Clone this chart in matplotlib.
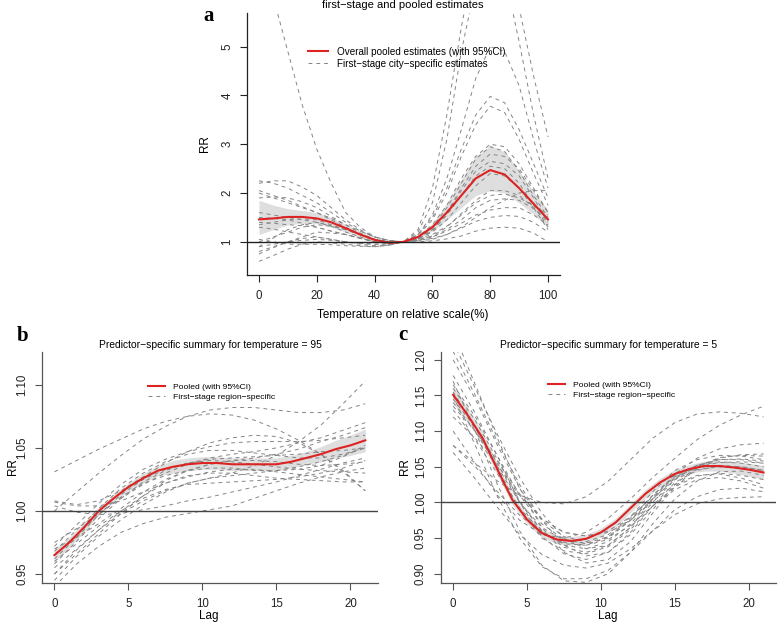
import numpy as np
import matplotlib
matplotlib.use("Agg")
import matplotlib.pyplot as plt

plt.rcParams['font.family'] = ['Liberation Sans', 'DejaVu Sans']

# ---------------- panel a: overall cumulative curve ----------------
temp_grid = [0, 5, 10, 15, 20, 25, 30, 35, 40, 45, 50,
             55, 60, 65, 70, 75, 80, 85, 90, 95, 100]
pooled_a = [1.46, 1.48, 1.51, 1.51, 1.48, 1.40, 1.28, 1.15, 1.04, 0.98, 1.00,
            1.10, 1.30, 1.60, 1.95, 2.30, 2.47, 2.38, 2.10, 1.78, 1.46]
upper_a = [1.85, 1.75, 1.68, 1.64, 1.60, 1.50, 1.36, 1.21, 1.08, 1.01, 1.00,
           1.13, 1.38, 1.78, 2.28, 2.75, 2.97, 2.85, 2.45, 2.02, 1.65]
lower_a = [1.15, 1.25, 1.35, 1.38, 1.37, 1.30, 1.20, 1.09, 1.00, 0.95, 1.00,
           1.07, 1.22, 1.45, 1.70, 1.95, 2.05, 2.00, 1.80, 1.56, 1.30]

# city-specific curves, read at the same temperatures as temp_grid
city_curves = [
    [7.30, 6.00, 4.90, 3.80, 2.90, 2.20, 1.60, 1.30, 1.10, 1.02, 1.00, 1.25, 2.10, 3.60, 5.40, 6.90, 7.60, 7.30, 5.80, 4.40, 3.15],
    [1.30, 1.26, 1.20, 1.15, 1.10, 1.05, 1.00, 0.97, 0.95, 0.96, 1.00, 1.20, 1.80, 3.10, 4.90, 6.30, 6.90, 6.50, 5.10, 3.60, 2.30],
    [0.90, 0.95, 1.00, 1.03, 1.05, 1.03, 1.00, 0.97, 0.95, 0.96, 1.00, 1.15, 1.55, 2.30, 3.30, 4.35, 5.00, 4.90, 4.20, 3.10, 2.10],
    [1.50, 1.48, 1.45, 1.38, 1.30, 1.22, 1.15, 1.07, 1.00, 0.98, 1.00, 1.15, 1.50, 2.10, 2.90, 3.60, 3.98, 3.85, 3.30, 2.60, 1.90],
    [2.00, 1.90, 1.80, 1.70, 1.60, 1.45, 1.30, 1.15, 1.05, 1.00, 1.00, 1.13, 1.45, 2.00, 2.75, 3.40, 3.78, 3.65, 3.10, 2.40, 1.75],
    [2.25, 2.20, 2.10, 1.95, 1.80, 1.60, 1.40, 1.22, 1.10, 1.03, 1.00, 1.10, 1.35, 1.75, 2.30, 2.75, 3.00, 2.95, 2.60, 2.10, 1.60],
    [1.60, 1.55, 1.50, 1.45, 1.40, 1.33, 1.25, 1.15, 1.05, 1.00, 1.00, 1.10, 1.30, 1.70, 2.20, 2.70, 2.95, 2.85, 2.45, 1.95, 1.50],
    [0.80, 0.90, 1.00, 1.10, 1.20, 1.18, 1.15, 1.08, 1.00, 0.98, 1.00, 1.08, 1.25, 1.60, 2.10, 2.55, 2.80, 2.75, 2.50, 2.05, 1.60],
    [1.35, 1.40, 1.45, 1.47, 1.45, 1.35, 1.25, 1.15, 1.05, 1.00, 1.00, 1.08, 1.25, 1.60, 2.05, 2.45, 2.65, 2.60, 2.35, 1.90, 1.40],
    [2.20, 2.25, 2.25, 2.12, 1.95, 1.70, 1.45, 1.25, 1.10, 1.02, 1.00, 1.07, 1.22, 1.55, 1.95, 2.35, 2.55, 2.50, 2.20, 1.75, 1.30],
    [1.90, 1.92, 1.90, 1.82, 1.70, 1.52, 1.35, 1.18, 1.05, 1.00, 1.00, 1.06, 1.20, 1.45, 1.80, 2.15, 2.40, 2.35, 2.10, 1.70, 1.25],
    [0.60, 0.72, 0.85, 0.95, 1.00, 0.98, 0.95, 0.92, 0.90, 0.93, 1.00, 1.07, 1.15, 1.32, 1.55, 1.80, 1.95, 1.98, 1.90, 1.75, 1.55],
    [1.40, 1.38, 1.35, 1.33, 1.30, 1.22, 1.15, 1.07, 1.00, 0.98, 1.00, 1.04, 1.10, 1.25, 1.45, 1.70, 1.85, 1.88, 1.85, 1.68, 1.45],
    [0.75, 0.88, 1.00, 1.07, 1.10, 1.05, 1.00, 0.95, 0.92, 0.94, 1.00, 1.05, 1.10, 1.22, 1.38, 1.55, 1.65, 1.70, 1.70, 1.55, 1.35],
    [1.00, 1.10, 1.20, 1.30, 1.35, 1.32, 1.25, 1.15, 1.05, 1.00, 1.00, 1.02, 1.05, 1.15, 1.28, 1.42, 1.50, 1.54, 1.52, 1.40, 1.20],
    [2.05, 1.95, 1.85, 1.72, 1.60, 1.48, 1.35, 1.22, 1.10, 1.03, 1.00, 1.00, 1.02, 1.06, 1.12, 1.22, 1.28, 1.30, 1.28, 1.18, 1.00],
    [0.90, 1.08, 1.25, 1.35, 1.40, 1.32, 1.20, 1.10, 1.00, 0.97, 1.00, 1.05, 1.12, 1.30, 1.58, 1.85, 2.05, 2.05, 1.95, 1.70, 1.40],
    [1.05, 1.00, 0.95, 0.95, 0.95, 0.94, 0.92, 0.91, 0.90, 0.93, 1.00, 1.03, 1.07, 1.15, 1.30, 1.50, 1.70, 1.85, 2.00, 2.05, 2.05],
]

# ---------------- panel b: lag curve at temperature = 95 ----------------
lag_fine = list(range(22))
pooled_b = [0.965, 0.975, 0.987, 1.000, 1.010, 1.019, 1.026, 1.032, 1.035, 1.037, 1.038,
            1.038, 1.037, 1.037, 1.037, 1.037, 1.039, 1.042, 1.045, 1.049, 1.052, 1.056]
halfw_b = [0.005, 0.004, 0.004, 0.003, 0.003, 0.003, 0.004, 0.004, 0.005, 0.005, 0.005,
           0.005, 0.005, 0.005, 0.005, 0.005, 0.005, 0.005, 0.006, 0.007, 0.008, 0.009]

lag_grid = [0, 1.5, 3, 4.5, 6, 7.5, 9, 10.5, 12, 13.5, 15, 16.5, 18, 19.5, 21]
region_b = [
    [1.031, 1.040, 1.049, 1.057, 1.065, 1.071, 1.075, 1.077, 1.076, 1.072, 1.065, 1.056, 1.045, 1.031, 1.016],
    [1.000, 1.015, 1.030, 1.044, 1.057, 1.067, 1.075, 1.080, 1.082, 1.082, 1.080, 1.078, 1.078, 1.080, 1.085],
    [0.950, 0.969, 0.985, 0.998, 1.008, 1.016, 1.022, 1.026, 1.030, 1.036, 1.044, 1.055, 1.068, 1.085, 1.103],
    [0.975, 0.986, 0.998, 1.010, 1.021, 1.030, 1.037, 1.042, 1.045, 1.047, 1.050, 1.054, 1.058, 1.064, 1.070],
    [1.008, 1.005, 1.008, 1.016, 1.027, 1.038, 1.047, 1.054, 1.058, 1.060, 1.059, 1.054, 1.045, 1.032, 1.016],
    [1.004, 0.999, 0.997, 0.998, 1.001, 1.004, 1.008, 1.011, 1.015, 1.019, 1.023, 1.028, 1.033, 1.038, 1.042],
    [0.940, 0.958, 0.972, 0.983, 0.990, 0.995, 0.998, 1.001, 1.004, 1.010, 1.016, 1.022, 1.027, 1.031, 1.034],
    [0.955, 0.970, 0.985, 1.000, 1.012, 1.022, 1.028, 1.030, 1.030, 1.028, 1.026, 1.025, 1.024, 1.023, 1.023],
    [0.962, 0.979, 0.997, 1.013, 1.025, 1.033, 1.038, 1.040, 1.039, 1.037, 1.035, 1.033, 1.032, 1.031, 1.030],
    [0.968, 0.985, 1.002, 1.018, 1.030, 1.039, 1.045, 1.048, 1.048, 1.046, 1.044, 1.042, 1.042, 1.045, 1.050],
    [0.972, 0.989, 1.006, 1.021, 1.033, 1.041, 1.047, 1.051, 1.054, 1.055, 1.055, 1.055, 1.056, 1.058, 1.060],
    [0.960, 0.974, 0.988, 1.000, 1.010, 1.017, 1.021, 1.022, 1.023, 1.024, 1.025, 1.027, 1.030, 1.034, 1.040],
    [0.965, 0.981, 0.997, 1.011, 1.022, 1.028, 1.032, 1.034, 1.034, 1.032, 1.032, 1.033, 1.036, 1.043, 1.052],
    [0.950, 0.966, 0.982, 0.998, 1.012, 1.024, 1.032, 1.037, 1.040, 1.040, 1.039, 1.037, 1.036, 1.037, 1.039],
    [0.970, 0.979, 0.990, 1.002, 1.015, 1.025, 1.032, 1.037, 1.040, 1.042, 1.045, 1.049, 1.055, 1.060, 1.066],
    [0.958, 0.976, 0.994, 1.010, 1.023, 1.032, 1.038, 1.041, 1.042, 1.043, 1.044, 1.045, 1.047, 1.048, 1.050],
    [0.945, 0.964, 0.980, 0.993, 1.005, 1.015, 1.022, 1.026, 1.028, 1.030, 1.032, 1.035, 1.039, 1.044, 1.050],
    [1.007, 1.004, 1.004, 1.008, 1.015, 1.022, 1.027, 1.031, 1.033, 1.033, 1.031, 1.029, 1.027, 1.025, 1.023],
]

# ---------------- panel c: lag curve at temperature = 5 ----------------
pooled_c = [1.151, 1.122, 1.090, 1.046, 1.004, 0.976, 0.957, 0.948, 0.946, 0.949, 0.958,
            0.972, 0.992, 1.012, 1.028, 1.040, 1.047, 1.051, 1.051, 1.049, 1.046, 1.042]
halfw_c = [0.012, 0.010, 0.009, 0.008, 0.007, 0.006, 0.006, 0.006, 0.006, 0.006, 0.006,
           0.006, 0.006, 0.006, 0.006, 0.006, 0.006, 0.007, 0.007, 0.008, 0.009, 0.010]
region_c = [
    [1.080, 1.055, 1.030, 1.010, 1.000, 0.998, 1.008, 1.030, 1.060, 1.090, 1.112, 1.124, 1.127, 1.125, 1.120],
    [1.100, 1.055, 1.010, 0.975, 0.955, 0.950, 0.958, 0.978, 1.005, 1.035, 1.062, 1.088, 1.108, 1.123, 1.135],
    [1.225, 1.160, 1.095, 1.035, 0.985, 0.950, 0.935, 0.940, 0.965, 1.005, 1.040, 1.062, 1.075, 1.081, 1.083],
    [1.212, 1.150, 1.085, 1.025, 0.975, 0.940, 0.925, 0.930, 0.955, 0.990, 1.025, 1.050, 1.063, 1.066, 1.065],
    [1.170, 1.100, 1.025, 0.960, 0.912, 0.890, 0.888, 0.900, 0.930, 0.970, 1.005, 1.030, 1.043, 1.044, 1.038],
    [1.150, 1.080, 1.008, 0.950, 0.910, 0.893, 0.893, 0.905, 0.930, 0.960, 0.990, 1.008, 1.018, 1.020, 1.015],
    [1.165, 1.120, 1.065, 1.010, 0.970, 0.948, 0.942, 0.950, 0.975, 1.010, 1.038, 1.052, 1.057, 1.055, 1.050],
    [1.140, 1.100, 1.050, 1.000, 0.965, 0.947, 0.943, 0.952, 0.975, 1.005, 1.032, 1.046, 1.050, 1.048, 1.045],
    [1.130, 1.088, 1.040, 0.992, 0.958, 0.942, 0.940, 0.952, 0.978, 1.010, 1.036, 1.049, 1.052, 1.050, 1.045],
    [1.160, 1.115, 1.060, 1.002, 0.960, 0.940, 0.935, 0.945, 0.970, 1.005, 1.034, 1.050, 1.056, 1.057, 1.055],
    [1.178, 1.125, 1.065, 1.000, 0.952, 0.928, 0.920, 0.930, 0.958, 0.995, 1.028, 1.045, 1.051, 1.050, 1.045],
    [1.080, 1.050, 1.015, 0.982, 0.958, 0.944, 0.940, 0.948, 0.968, 0.995, 1.018, 1.032, 1.035, 1.030, 1.020],
    [1.070, 1.033, 0.993, 0.955, 0.927, 0.912, 0.908, 0.915, 0.935, 0.960, 0.983, 0.998, 1.005, 1.007, 1.008],
    [1.200, 1.145, 1.080, 1.020, 0.975, 0.952, 0.945, 0.955, 0.980, 1.015, 1.045, 1.060, 1.066, 1.065, 1.060],
    [1.145, 1.105, 1.055, 1.000, 0.960, 0.937, 0.930, 0.940, 0.965, 1.000, 1.032, 1.052, 1.060, 1.060, 1.055],
    [1.120, 1.090, 1.052, 1.010, 0.977, 0.958, 0.953, 0.960, 0.980, 1.008, 1.035, 1.052, 1.060, 1.061, 1.058],
    [1.155, 1.105, 1.048, 0.990, 0.950, 0.932, 0.928, 0.938, 0.962, 0.995, 1.022, 1.037, 1.041, 1.038, 1.032],
    [1.135, 1.100, 1.058, 1.012, 0.977, 0.958, 0.953, 0.958, 0.975, 1.002, 1.025, 1.038, 1.040, 1.034, 1.025],
    [1.240, 1.165, 1.090, 1.020, 0.965, 0.930, 0.915, 0.920, 0.945, 0.985, 1.022, 1.048, 1.062, 1.067, 1.068],
]

W, H = 778, 627
RED = '#dd2222'
DASH = '#858585'
BAND = '#dedede'

fig = plt.figure(figsize=(W / 100, H / 100), dpi=100)


def px_axes(left, top, right, bottom):
    return fig.add_axes([left / W, 1 - bottom / H, (right - left) / W, (bottom - top) / H])


def style_axes(ax, axis_col):
    for s in ('top', 'right'):
        ax.spines[s].set_visible(False)
    for s in ('left', 'bottom'):
        ax.spines[s].set_color(axis_col)
        ax.spines[s].set_linewidth(0.9)
    ax.tick_params(axis='both', direction='out', length=5, width=0.8,
                   color=axis_col, labelsize=8.3, labelcolor='#222222')
    ax.tick_params(axis='x', pad=6)
    ax.tick_params(axis='y', pad=5, labelrotation=90)
    for lab in ax.get_yticklabels():
        lab.set_va('center')


def draw_panel(ax, x_pooled, pooled, lo, hi, x_first, curves, labels, hcol):
    ax.fill_between(x_pooled, lo, hi, color=BAND, lw=0, zorder=1)
    for k, cur in enumerate(curves):
        ax.plot(x_first, cur, color=DASH, lw=0.7, dashes=(4, 4), zorder=2,
                label=labels[1] if k == 0 else None)
    ax.plot(x_pooled, pooled, color=RED, lw=1.5, zorder=3, label=labels[0])
    ax.axhline(1, color=hcol, lw=1.0, zorder=4)


def add_legend(ax, x, y, size):
    h, l = ax.get_legend_handles_labels()
    ax.legend(h[::-1], l[::-1], loc='upper left', bbox_to_anchor=(x / W, 1 - y / H),
              bbox_transform=fig.transFigure, frameon=False, fontsize=size,
              handlelength=2.0, handletextpad=0.9, labelspacing=0.2, borderaxespad=0)


# panel a
ax_a = px_axes(247.4, 13, 559.6, 275)
draw_panel(ax_a, temp_grid, pooled_a, lower_a, upper_a, temp_grid, city_curves,
           ['Overall pooled estimates (with 95%CI)', 'First\u2212stage city\u2212specific estimates'],
           '#222222')
ax_a.set_xlim(-4, 104)
ax_a.set_ylim(0.32, 5.69)
ax_a.set_xticks([0, 20, 40, 60, 80, 100])
ax_a.set_yticks([1, 2, 3, 4, 5])
style_axes(ax_a, '#222222')
add_legend(ax_a, 304, 43, 7.1)

# panel b
ax_b = px_axes(42, 352, 377.7, 583)
lo_b = np.array(pooled_b) - np.array(halfw_b)
hi_b = np.array(pooled_b) + np.array(halfw_b)
draw_panel(ax_b, lag_fine, pooled_b, lo_b, hi_b, lag_grid, region_b,
           ['Pooled (with 95%CI)', 'First\u2212stage region\u2212specific'], '#444444')
ax_b.set_xlim(-0.84, 21.84)
ax_b.set_ylim(0.9429, 1.126)
ax_b.set_xticks([0, 5, 10, 15, 20])
ax_b.set_yticks([0.95, 1.00, 1.05, 1.10])
ax_b.set_yticklabels(['0.95', '1.00', '1.05', '1.10'])
style_axes(ax_b, '#555555')
add_legend(ax_b, 145, 380, 6.1)

# panel c
ax_c = px_axes(440.7, 352, 776, 583)
lo_c = np.array(pooled_c) - np.array(halfw_c)
hi_c = np.array(pooled_c) + np.array(halfw_c)
draw_panel(ax_c, lag_fine, pooled_c, lo_c, hi_c, lag_grid, region_c,
           ['Pooled (with 95%CI)', 'First\u2212stage region\u2212specific'], '#444444')
ax_c.set_xlim(-0.84, 21.84)
ax_c.set_ylim(0.887, 1.211)
ax_c.set_xticks([0, 5, 10, 15, 20])
ax_c.set_yticks([0.90, 0.95, 1.00, 1.05, 1.10, 1.15, 1.20])
ax_c.set_yticklabels(['0.90', '0.95', '1.00', '1.05', '1.10', '1.15', '1.20'])
style_axes(ax_c, '#555555')
add_legend(ax_c, 545, 378, 6.1)


def ftext(x, y, s, **kw):
    fig.text(x / W, 1 - y / H, s, ha='center', va='center', **kw)


ftext(403, 5, 'first\u2212stage and pooled estimates', fontsize=8)
ftext(403, 315, 'Temperature on relative scale(%)', fontsize=8.4)
ftext(205, 144, 'RR', fontsize=8.4, rotation=90)
ftext(210, 345, 'Predictor\u2212specific summary for temperature = 95', fontsize=7.4)
ftext(209, 616, 'Lag', fontsize=8.4)
ftext(13, 467, 'RR', fontsize=8.4, rotation=90)
ftext(609, 345, 'Predictor\u2212specific summary for temperature = 5', fontsize=7.4)
ftext(608, 616, 'Lag', fontsize=8.4)
ftext(405, 467, 'RR', fontsize=8.4, rotation=90)

serif = ['Liberation Serif', 'DejaVu Serif']
ftext(209, 16, 'a', fontsize=15, fontweight='bold', family=serif)
ftext(23, 336, 'b', fontsize=15, fontweight='bold', family=serif)
ftext(403, 335, 'c', fontsize=15, fontweight='bold', family=serif)

fig.savefig('out.png', dpi=100)
